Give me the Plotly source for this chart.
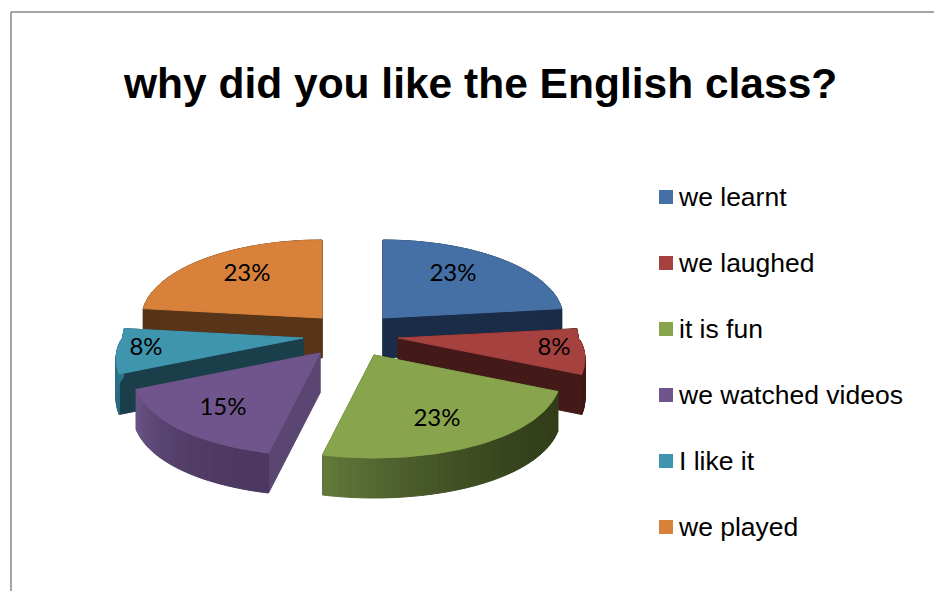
import numpy as np
import plotly.graph_objects as go

title = "why did you like the English class?"
categories = ["we learnt", "we laughed", "it is fun", "we watched videos", "I like it", "we played"]
values = [3, 1, 3, 2, 1, 3]
labels = ["23%", "8%", "23%", "15%", "8%", "23%"]
top_colors = ["#4570A6", "#A5413F", "#88A44C", "#70558C", "#3F95AE", "#D7813B"]
wall_colors = ["#1A2C47", "#431A18", "#38461C", "#5A4670", "#1A3F4B", "#583418"]
arc_light = ["#1A2C47", "#431A18", "#62783A", "#6A5487", "#2F7F96", "#583418"]
arc_dark = ["#1A2C47", "#431A18", "#323E1A", "#4C3860", "#2A6C80", "#583418"]
apex_x = [383, 398, 374, 320, 303, 322]
apex_y = [318, 338, 355, 353, 338, 318]
draw_order = [0, 5, 4, 1, 3, 2]
legend_y = [197, 263, 329, 395, 461, 527]
legend_text_y = [199, 265, 331, 397, 463, 529]
label_x = [453, 554, 437, 223, 146, 247]
label_y = [275, 349, 420, 409, 349, 275]

RX_BASE, RX_FRONT, RY_UP, RY_DOWN, DEPTH = 180, 36, 78, 103, 40


def hexmix(a, b, t):
    ca = [int(a[i:i + 2], 16) for i in (1, 3, 5)]
    cb = [int(b[i:i + 2], 16) for i in (1, 3, 5)]
    return "#%02x%02x%02x" % tuple(round(x + (y - x) * t) for x, y in zip(ca, cb))


def rim(ax, ay, theta):
    c = np.cos(theta)
    ry = np.where(c > 0, RY_UP, RY_DOWN)
    rx = RX_BASE + RX_FRONT * np.clip(-c, 0, 1) ** 0.75
    return ax + rx * np.sin(theta), ay - ry * c


def poly(xs, ys, color):
    return go.Scatter(x=xs, y=ys, mode="lines", fill="toself", fillcolor=color,
                      line=dict(color=color, width=1), hoverinfo="skip", showlegend=False)


fig = go.Figure()
total = sum(values)
edges = np.cumsum([0] + values) / total * 2 * np.pi

for i in draw_order:
    ax, ay = apex_x[i], apex_y[i]
    t = np.linspace(edges[i], edges[i + 1], 81)
    x, y = rim(ax, ay, t)
    # radial walls
    for k in (0, -1):
        fig.add_trace(poly([ax, x[k], x[k], ax, ax],
                           [ay, y[k], y[k] + DEPTH, ay + DEPTH, ay], wall_colors[i]))
    # outer wall, split into strips for the shading
    n = 40
    idx = np.linspace(0, len(t) - 1, n + 1).astype(int)
    for j in range(n):
        a, b = idx[j], idx[j + 1]
        frac = j / (n - 1)
        col = hexmix(arc_dark[i], arc_light[i], frac ** 2)
        xs = list(x[a:b + 1]) + list(x[a:b + 1][::-1])
        ys = list(y[a:b + 1]) + list((y[a:b + 1] + DEPTH)[::-1])
        fig.add_trace(poly(xs + xs[:1], ys + ys[:1], col))
    # top face
    fig.add_trace(poly([ax] + list(x) + [ax], [ay] + list(y) + [ay], top_colors[i]))

fig.add_trace(go.Scatter(x=label_x, y=label_y, mode="text", text=labels,
                         textfont=dict(family="Lato", size=24, color="#000000"),
                         hoverinfo="skip", showlegend=False))

fig.add_trace(go.Scatter(x=[666] * len(categories), y=legend_y, mode="markers",
                         marker=dict(symbol="square", size=14, color=top_colors),
                         hoverinfo="skip", showlegend=False))
fig.add_trace(go.Scatter(x=[679] * len(categories), y=legend_text_y, mode="text", text=categories,
                         textposition="middle right",
                         textfont=dict(family="Liberation Sans", size=26.5, color="#000000"),
                         hoverinfo="skip", showlegend=False))

fig.add_annotation(x=479.5, y=83, text="<b>%s</b>" % title, showarrow=False, xref="x", yref="y",
                   font=dict(family="Liberation Sans", size=42.5, color="#000000"))

# chart frame
fig.add_shape(type="line", x0=11, y0=12, x1=934, y1=12, line=dict(color="#868686", width=1.5))
fig.add_shape(type="line", x0=11, y0=12, x1=11, y1=591, line=dict(color="#868686", width=1.5))

fig.update_xaxes(range=[0, 934], visible=False, fixedrange=True)
fig.update_yaxes(range=[591, 0], visible=False, fixedrange=True)
fig.update_layout(width=934, height=591, margin=dict(l=0, r=0, t=0, b=0),
                  paper_bgcolor="white", plot_bgcolor="white", showlegend=False)
fig.write_html("out.html", post_script="document.body.style.margin='0';document.body.style.overflow='hidden';",
               config={"displayModeBar": False})
